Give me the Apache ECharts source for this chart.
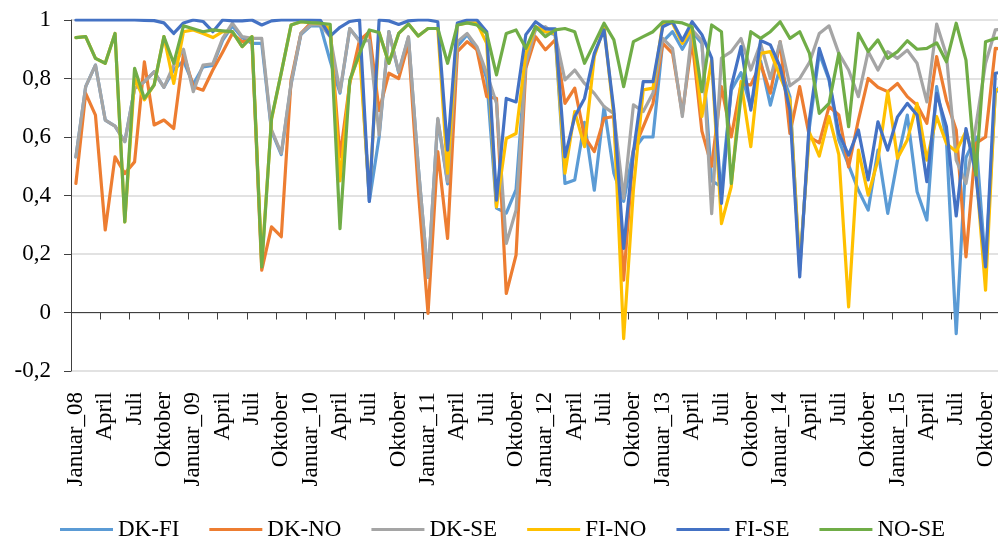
<!DOCTYPE html>
<html>
<head>
<meta charset="utf-8">
<script src="https://cdn.jsdelivr.net/npm/echarts@6/dist/echarts.min.js"></script>
<style>
  html, body { margin: 0; padding: 0; overflow: hidden; background: #ffffff; }
  #chart { width: 1012px; height: 538px; }
</style>
</head>
<body>
<div id="chart"></div>
<script>
// Month names and year suffixes used to build the category labels (Jan 2008 - Dec 2015)
const monthNames = ['Januar', 'Februar', 'Mars', 'April', 'Mai', 'Juni', 'Juli', 'August', 'September', 'Oktober', 'November', 'Desember'];
const yearSuffixes = ['08', '09', '10', '11', '12', '13', '14', '15'];

// Monthly price correlation between bidding areas
const dkFi = [
  0.532, 0.772, 0.846, 0.658, 0.637, 0.584, 0.766, 0.789, 0.823, 0.77,
  0.83, 0.86, 0.78, 0.84, 0.845, 0.93, 0.98, 0.94, 0.92, 0.92,
  0.62, 0.54, 0.78, 0.95, 0.98, 0.98, 0.86, 0.75, 0.97, 0.93,
  0.38, 0.6, 0.96, 0.82, 0.94, 0.5, 0.12, 0.66, 0.44, 0.91,
  0.95, 0.9, 0.8, 0.357, 0.34, 0.42, 0.87, 0.97, 0.96, 0.95,
  0.441, 0.453, 0.65, 0.418, 0.704, 0.476, 0.38, 0.555, 0.6, 0.6,
  0.926, 0.96, 0.9, 0.96, 0.92, 0.45, 0.43, 0.76, 0.82, 0.7,
  0.86, 0.709, 0.84, 0.738, 0.145, 0.635, 0.886, 0.795, 0.589, 0.504,
  0.418, 0.35, 0.555, 0.339, 0.521, 0.675, 0.413, 0.316, 0.772, 0.59,
  -0.072, 0.53, 0.6, 0.156, 0.75, 0.8
];
const dkNo = [
  0.441, 0.749, 0.675, 0.282, 0.532, 0.475, 0.515, 0.857, 0.641, 0.658,
  0.629, 0.886, 0.772, 0.76, 0.829, 0.89, 0.954, 0.926, 0.93, 0.145,
  0.293, 0.259, 0.795, 0.954, 0.989, 0.983, 0.966, 0.532, 0.783, 0.93,
  0.96, 0.69, 0.818, 0.80, 0.92, 0.42, -0.003, 0.55, 0.253, 0.892,
  0.926, 0.898, 0.738, 0.732, 0.065, 0.196, 0.835, 0.943, 0.898, 0.932,
  0.715, 0.767, 0.601, 0.55, 0.664, 0.67, 0.111, 0.555, 0.635, 0.715,
  0.92, 0.886, 0.68, 0.93, 0.62, 0.5, 0.772, 0.6, 0.78, 0.778,
  0.85, 0.75, 0.926, 0.612, 0.772, 0.6, 0.58, 0.704, 0.675, 0.498,
  0.658, 0.8, 0.77, 0.755, 0.783, 0.738, 0.709, 0.647, 0.875, 0.726,
  0.624, 0.19, 0.578, 0.6, 0.903, 0.9
];
const dkSe = [
  0.532, 0.772, 0.846, 0.658, 0.637, 0.584, 0.766, 0.789, 0.823, 0.77,
  0.846, 0.9, 0.755, 0.846, 0.85, 0.937, 0.989, 0.943, 0.937, 0.937,
  0.624, 0.544, 0.784, 0.954, 0.983, 0.985, 0.943, 0.755, 0.971, 0.926,
  0.93, 0.607, 0.96, 0.823, 0.943, 0.5, 0.122, 0.664, 0.447, 0.926,
  0.954, 0.909, 0.818, 0.715, 0.236, 0.35, 0.85, 0.97, 0.977, 0.95,
  0.795, 0.829, 0.783, 0.749, 0.704, 0.68, 0.39, 0.71, 0.687, 0.75,
  0.937, 0.903, 0.67, 0.966, 0.93, 0.338, 0.87, 0.892, 0.937, 0.829,
  0.92, 0.8, 0.926, 0.775, 0.8, 0.855, 0.954, 0.98, 0.886, 0.829,
  0.738, 0.892, 0.829, 0.892, 0.869, 0.897, 0.852, 0.72, 0.986, 0.88,
  0.521, 0.441, 0.635, 0.852, 0.966, 0.97
];
const fiNo = [
  0.94, 0.943, 0.869, 0.852, 0.954, 0.31, 0.8, 0.727, 0.778, 0.943,
  0.783, 0.96, 0.966, 0.954, 0.94, 0.96, 0.96, 0.909, 0.943, 0.17,
  0.66, 0.82, 0.983, 0.994, 0.991, 0.989, 0.97, 0.45, 0.79, 0.886,
  0.4, 0.957, 0.852, 0.954, 0.986, 0.945, 0.971, 0.971, 0.476, 0.983,
  0.99, 0.99, 0.92, 0.361, 0.595, 0.612, 0.886, 0.977, 0.96, 0.954,
  0.476, 0.687, 0.567, 0.875, 0.977, 0.67, -0.089, 0.42, 0.761, 0.767,
  0.989, 0.989, 0.92, 0.971, 0.67, 0.863, 0.304, 0.43, 0.789, 0.567,
  0.886, 0.892, 0.806, 0.726, 0.16, 0.615, 0.535, 0.67, 0.54, 0.019,
  0.555, 0.401, 0.521, 0.755, 0.527, 0.59, 0.715, 0.521, 0.67, 0.578,
  0.55, 0.62, 0.498, 0.076, 0.76, 0.77
];
const fiSe = [
  1, 1, 1, 1, 1, 1, 1, 0.999, 0.998, 0.99,
  0.954, 0.99, 1, 0.995, 0.96, 1, 0.997, 0.997, 1, 0.983,
  0.997, 1, 1, 1, 1, 0.999, 0.945, 0.975, 0.995, 1,
  0.38, 1, 0.997, 0.985, 0.997, 1, 1, 0.994, 0.555, 0.99,
  1, 1, 0.96, 0.384, 0.732, 0.72, 0.95, 0.994, 0.97, 0.97,
  0.532, 0.67, 0.732, 0.886, 0.966, 0.692, 0.219, 0.55, 0.789, 0.789,
  0.977, 0.994, 0.93, 0.994, 0.95, 0.87, 0.373, 0.772, 0.909, 0.692,
  0.93, 0.915, 0.84, 0.692, 0.122, 0.66, 0.903, 0.8, 0.612, 0.538,
  0.624, 0.453, 0.652, 0.555, 0.669, 0.715, 0.675, 0.447, 0.749, 0.635,
  0.33, 0.629, 0.475, 0.156, 0.818, 0.823
];
const noSe = [
  0.94, 0.943, 0.869, 0.852, 0.954, 0.31, 0.835, 0.732, 0.778, 0.943,
  0.852, 0.98, 0.97, 0.96, 0.966, 0.963, 0.96, 0.909, 0.943, 0.156,
  0.664, 0.82, 0.983, 0.994, 0.991, 0.989, 0.985, 0.287, 0.795, 0.886,
  0.966, 0.957, 0.852, 0.954, 0.986, 0.945, 0.971, 0.971, 0.852, 0.983,
  0.99, 0.983, 0.954, 0.812, 0.954, 0.966, 0.903, 0.977, 0.943, 0.966,
  0.971, 0.96, 0.852, 0.92, 0.989, 0.932, 0.772, 0.926, 0.943, 0.96,
  0.994, 0.994, 0.99, 0.977, 0.755, 0.983, 0.96, 0.441, 0.74, 0.96,
  0.937, 0.96, 0.994, 0.937, 0.96, 0.886, 0.681, 0.715, 0.886, 0.635,
  0.954, 0.892, 0.932, 0.869, 0.892, 0.929, 0.9, 0.903, 0.922, 0.857,
  0.989, 0.863, 0.47, 0.926, 0.937, 0.94
];

const seriesNames = ['DK-FI', 'DK-NO', 'DK-SE', 'FI-NO', 'FI-SE', 'NO-SE'];
const seriesColors = ['#5B9BD5', '#ED7D31', '#A5A5A5', '#FFC000', '#4472C4', '#70AD47'];
const seriesData = [dkFi, dkNo, dkSe, fiNo, fiSe, noSe];

// Category labels: first month of each year carries the year suffix
const categories = [];
yearSuffixes.forEach(function (yy) {
  monthNames.forEach(function (m, idx) {
    categories.push(idx === 0 ? m + '_' + yy : m);
  });
});

const FONT = '"Times New Roman", "Liberation Serif", serif';
const AXIS_DARK = '#404040';

const chart = echarts.init(document.getElementById('chart'), null, { renderer: 'canvas' });

chart.setOption({
  animation: false,
  backgroundColor: '#ffffff',
  textStyle: { fontFamily: FONT, color: '#000' },
  grid: { left: 71, right: 2, top: 20, bottom: 167, containLabel: false },
  legend: {
    left: 55,
    top: 513,
    icon: 'rect',
    itemWidth: 53,
    itemHeight: 3,
    itemGap: 30,
    textStyle: { fontFamily: FONT, fontSize: 23, color: '#000' },
    data: seriesNames
  },
  xAxis: [
    {
      // labels along the bottom edge of the plot
      type: 'category',
      data: categories,
      position: 'bottom',
      boundaryGap: true,
      axisLine: { show: false, onZero: false },
      axisTick: { show: false },
      splitLine: { show: false },
      axisLabel: {
        interval: 2,
        rotate: 90,
        margin: 21,
        fontFamily: FONT,
        fontSize: 23,
        color: '#000'
      }
    },
    {
      // axis line and quarter ticks drawn through zero
      type: 'category',
      data: categories,
      position: 'bottom',
      boundaryGap: true,
      axisLine: { show: true, onZero: true, lineStyle: { color: AXIS_DARK, width: 1 } },
      axisTick: { show: true, interval: 2, length: 7, lineStyle: { color: AXIS_DARK, width: 1 } },
      axisLabel: { show: false },
      splitLine: { show: false }
    }
  ],
  yAxis: {
    type: 'value',
    min: -0.2,
    max: 1,
    interval: 0.2,
    axisLine: { show: true, lineStyle: { color: AXIS_DARK, width: 1 } },
    axisTick: { show: true, length: 7, lineStyle: { color: AXIS_DARK, width: 1 } },
    splitLine: { show: true, lineStyle: { color: '#D9D9D9', width: 1.5 } },
    axisLabel: {
      margin: 20,
      fontFamily: FONT,
      fontSize: 23,
      color: '#000',
      formatter: function (v) {
        const r = Math.round(v * 10) / 10;
        return String(r).replace('.', ',');
      }
    }
  },
  series: seriesData.map(function (d, k) {
    return {
      name: seriesNames[k],
      type: 'line',
      xAxisIndex: 0,
      data: d,
      showSymbol: false,
      symbol: 'none',
      smooth: false,
      color: seriesColors[k],
      lineStyle: { width: 3.2, color: seriesColors[k], cap: 'round', join: 'round' },
      emphasis: { disabled: true }
    };
  })
});
</script>
</body>
</html>
